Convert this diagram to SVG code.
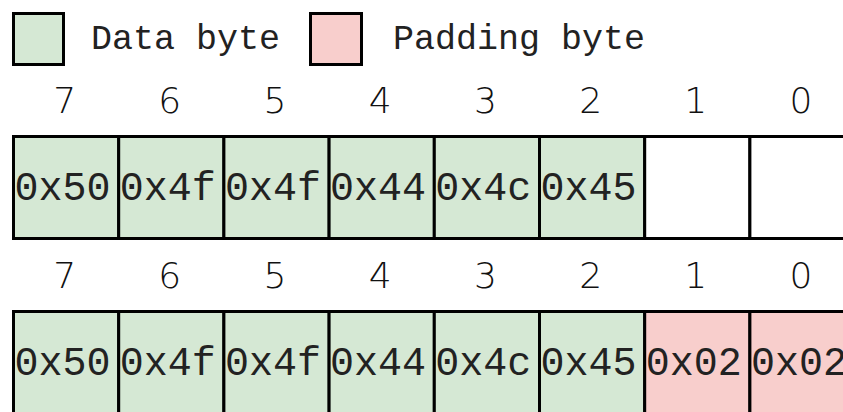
<svg xmlns="http://www.w3.org/2000/svg" width="843" height="412" viewBox="0 0 843 412">
<style>
.d{fill:#d5e8d4;stroke:#000;stroke-width:3}
.p{fill:#f8cecc;stroke:#000;stroke-width:3}
.e{fill:#fff;stroke:#000;stroke-width:3}
.t{font-family:"Liberation Mono","Courier New",monospace;font-size:40px;fill:#222}
.l{font-family:"Liberation Mono","Courier New",monospace;font-size:35px;fill:#222}
.i{font-family:"DejaVu Sans","Liberation Sans",sans-serif;font-weight:200;font-size:36px;fill:#111;text-anchor:middle}
</style>
<rect width="843" height="412" fill="#fff"/>
<g id="legend-data"><rect class="d" x="13.5" y="13.5" width="50" height="51"/><text class="l" x="91" y="49">Data byte</text></g>
<g id="legend-padding"><rect class="p" x="310.5" y="13.5" width="51" height="51"/><text class="l" x="393" y="49">Padding byte</text></g>
<g id="index-row1">
<text class="i" x="64.6" y="113">7</text><text class="i" x="169.8" y="113">6</text><text class="i" x="275" y="113">5</text><text class="i" x="380.2" y="113">4</text><text class="i" x="485.4" y="113">3</text><text class="i" x="590.6" y="113">2</text><text class="i" x="695.8" y="113">1</text><text class="i" x="801" y="113">0</text>
</g>
<g id="row1">
<g id="r1c7"><rect class="d" x="13.5" y="136.5" width="105.2" height="102"/><text class="t" x="14.5" y="200">0x50</text></g>
<g id="r1c6"><rect class="d" x="118.7" y="136.5" width="105.2" height="102"/><text class="t" x="119.7" y="200">0x4f</text></g>
<g id="r1c5"><rect class="d" x="223.9" y="136.5" width="105.2" height="102"/><text class="t" x="224.9" y="200">0x4f</text></g>
<g id="r1c4"><rect class="d" x="329.1" y="136.5" width="105.2" height="102"/><text class="t" x="330.1" y="200">0x44</text></g>
<g id="r1c3"><rect class="d" x="434.3" y="136.5" width="105.2" height="102"/><text class="t" x="435.3" y="200">0x4c</text></g>
<g id="r1c2"><rect class="d" x="539.5" y="136.5" width="105.2" height="102"/><text class="t" x="540.5" y="200">0x45</text></g>
<g id="r1c1"><rect class="e" x="644.7" y="136.5" width="105.2" height="102"/></g>
<g id="r1c0"><rect class="e" x="749.9" y="136.5" width="105.2" height="102"/></g>
</g>
<g id="index-row2">
<text class="i" x="64.6" y="288">7</text><text class="i" x="169.8" y="288">6</text><text class="i" x="275" y="288">5</text><text class="i" x="380.2" y="288">4</text><text class="i" x="485.4" y="288">3</text><text class="i" x="590.6" y="288">2</text><text class="i" x="695.8" y="288">1</text><text class="i" x="801" y="288">0</text>
</g>
<g id="row2">
<g id="r2c7"><rect class="d" x="13.5" y="311.5" width="105.2" height="102"/><text class="t" x="14.5" y="375">0x50</text></g>
<g id="r2c6"><rect class="d" x="118.7" y="311.5" width="105.2" height="102"/><text class="t" x="119.7" y="375">0x4f</text></g>
<g id="r2c5"><rect class="d" x="223.9" y="311.5" width="105.2" height="102"/><text class="t" x="224.9" y="375">0x4f</text></g>
<g id="r2c4"><rect class="d" x="329.1" y="311.5" width="105.2" height="102"/><text class="t" x="330.1" y="375">0x44</text></g>
<g id="r2c3"><rect class="d" x="434.3" y="311.5" width="105.2" height="102"/><text class="t" x="435.3" y="375">0x4c</text></g>
<g id="r2c2"><rect class="d" x="539.5" y="311.5" width="105.2" height="102"/><text class="t" x="540.5" y="375">0x45</text></g>
<g id="r2c1"><rect class="p" x="644.7" y="311.5" width="105.2" height="102"/><text class="t" x="645.7" y="375">0x02</text></g>
<g id="r2c0"><rect class="p" x="749.9" y="311.5" width="105.2" height="102"/><text class="t" x="750.9" y="375">0x02</text></g>
</g>
</svg>
